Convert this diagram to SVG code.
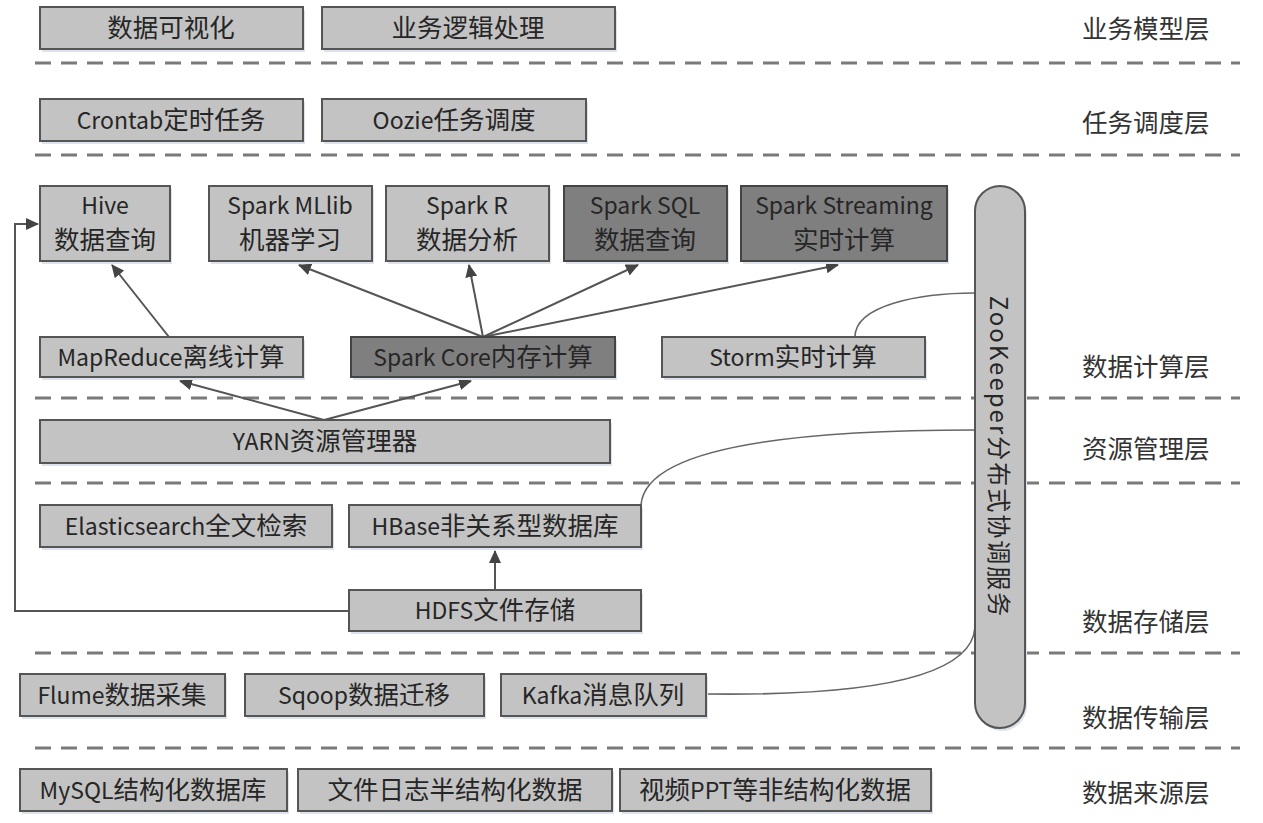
<svg xmlns="http://www.w3.org/2000/svg" width="1263" height="823" viewBox="0 0 1263 823">
<style>
.bg{fill:#ffffff}
.sh{fill:#dde3ec}
.lt{fill:#c3c3c3;stroke:#555555;stroke-width:2}
.dk{fill:#7f7f7f;stroke:#444444;stroke-width:2}
.t{font-family:"Noto Sans CJK SC","Noto Sans",sans-serif;font-size:23px;fill:#262626;text-anchor:middle}
.c{font-size:25.5px}
.lab{font-family:"Noto Sans CJK SC","Noto Sans",sans-serif;font-size:25.5px;fill:#333333;text-anchor:start}
.zk{font-family:"Noto Sans CJK SC","Noto Sans",sans-serif;font-size:24px;fill:#262626;text-anchor:middle;dominant-baseline:central;letter-spacing:2px}
.dash{stroke:#7a7a7a;stroke-width:3;stroke-dasharray:16 10;fill:none}
.ar{stroke:#555555;stroke-width:2;fill:none;marker-end:url(#ah)}
.cv{stroke:#666666;stroke-width:1.6;fill:none}
</style>
<defs>
<marker id="ah" markerUnits="userSpaceOnUse" markerWidth="14" markerHeight="12" refX="12" refY="6" orient="auto">
<path d="M0,0 L13,6 L0,12 z" fill="#444444"/>
</marker>
</defs>
<rect class="bg" x="0" y="0" width="1263" height="823"/>

<g id="layers">
<line class="dash" x1="35" y1="63" x2="1240" y2="63"/>
<line class="dash" x1="35" y1="155" x2="1240" y2="155"/>
<line class="dash" x1="35" y1="398" x2="1240" y2="398"/>
<line class="dash" x1="35" y1="483" x2="1240" y2="483"/>
<line class="dash" x1="35" y1="653" x2="1240" y2="653"/>
<line class="dash" x1="35" y1="748" x2="1240" y2="748"/>
<text class="lab" x="1082" y="38">业务模型层</text>
<text class="lab" x="1082" y="132">任务调度层</text>
<text class="lab" x="1082" y="376">数据计算层</text>
<text class="lab" x="1082" y="458">资源管理层</text>
<text class="lab" x="1082" y="631">数据存储层</text>
<text class="lab" x="1082" y="727">数据传输层</text>
<text class="lab" x="1082" y="802">数据来源层</text>
</g>

<g id="connectors">
<line class="ar" x1="169" y1="337" x2="112" y2="265"/>
<line class="ar" x1="483" y1="337" x2="299" y2="265"/>
<line class="ar" x1="483" y1="337" x2="469" y2="265"/>
<line class="ar" x1="483" y1="337" x2="638" y2="265"/>
<line class="ar" x1="483" y1="337" x2="838" y2="265"/>
<line class="ar" x1="324" y1="420" x2="180" y2="381"/>
<line class="ar" x1="324" y1="420" x2="471" y2="381"/>
<line class="ar" x1="495" y1="590" x2="495" y2="551"/>
<path class="ar" d="M349,611 L15,611 L15,224 L38,224"/>
<path class="cv" d="M855,337 C855,305 920,293 975,293"/>
<path class="cv" d="M641,505 C645,450 780,430 975,430"/>
<path class="cv" d="M706,694 C860,696 972,680 975,627"/>
</g>

<g id="n-vis"><rect class="sh" x="42" y="10" width="263" height="42"/><rect class="lt" x="40" y="7" width="263" height="42"/><text class="t c" x="171" y="37">数据可视化</text></g>
<g id="n-biz"><rect class="sh" x="324" y="10" width="293" height="42"/><rect class="lt" x="322" y="7" width="293" height="42"/><text class="t c" x="468" y="37">业务逻辑处理</text></g>
<g id="n-crontab"><rect class="sh" x="42" y="102" width="263" height="42"/><rect class="lt" x="40" y="99" width="263" height="42"/><text class="t" x="171" y="129">Crontab<tspan class="c">定时任务</tspan></text></g>
<g id="n-oozie"><rect class="sh" x="324" y="102" width="264" height="42"/><rect class="lt" x="322" y="99" width="264" height="42"/><text class="t" x="454" y="129">Oozie<tspan class="c">任务调度</tspan></text></g>

<g id="n-hive"><rect class="sh" x="42" y="189" width="130" height="75"/><rect class="lt" x="40" y="186" width="130" height="75"/><text class="t" x="105" y="214">Hive</text><text class="t c" x="105" y="249">数据查询</text></g>
<g id="n-mllib"><rect class="sh" x="211" y="189" width="163" height="75"/><rect class="lt" x="209" y="186" width="163" height="75"/><text class="t" x="290" y="214">Spark MLlib</text><text class="t c" x="290" y="249">机器学习</text></g>
<g id="n-sparkr"><rect class="sh" x="388" y="189" width="163" height="75"/><rect class="lt" x="386" y="186" width="163" height="75"/><text class="t" x="467" y="214">Spark R</text><text class="t c" x="467" y="249">数据分析</text></g>
<g id="n-sparksql"><rect class="sh" x="566" y="189" width="163" height="75"/><rect class="dk" x="564" y="186" width="163" height="75"/><text class="t" x="645" y="214">Spark SQL</text><text class="t c" x="645" y="249">数据查询</text></g>
<g id="n-streaming"><rect class="sh" x="743" y="189" width="206" height="75"/><rect class="dk" x="741" y="186" width="206" height="75"/><text class="t" x="844" y="214">Spark Streaming</text><text class="t c" x="844" y="249">实时计算</text></g>

<g id="n-mapreduce"><rect class="sh" x="42" y="340" width="263" height="40"/><rect class="lt" x="40" y="337" width="263" height="40"/><text class="t" x="171" y="366">MapReduce<tspan class="c">离线计算</tspan></text></g>
<g id="n-sparkcore"><rect class="sh" x="353" y="340" width="264" height="40"/><rect class="dk" x="351" y="337" width="264" height="40"/><text class="t" x="483" y="366">Spark Core<tspan class="c">内存计算</tspan></text></g>
<g id="n-storm"><rect class="sh" x="664" y="340" width="263" height="40"/><rect class="lt" x="662" y="337" width="263" height="40"/><text class="t" x="793" y="366">Storm<tspan class="c">实时计算</tspan></text></g>

<g id="n-yarn"><rect class="sh" x="42" y="423" width="570" height="43"/><rect class="lt" x="40" y="420" width="570" height="43"/><text class="t" x="325" y="450">YARN<tspan class="c">资源管理器</tspan></text></g>

<g id="n-es"><rect class="sh" x="42" y="508" width="292" height="42"/><rect class="lt" x="40" y="505" width="292" height="42"/><text class="t" x="186" y="535">Elasticsearch<tspan class="c">全文检索</tspan></text></g>
<g id="n-hbase"><rect class="sh" x="351" y="508" width="292" height="42"/><rect class="lt" x="349" y="505" width="292" height="42"/><text class="t" x="495" y="535">HBase<tspan class="c">非关系型数据库</tspan></text></g>
<g id="n-hdfs"><rect class="sh" x="351" y="593" width="292" height="41"/><rect class="lt" x="349" y="590" width="292" height="41"/><text class="t" x="495" y="619">HDFS<tspan class="c">文件存储</tspan></text></g>

<g id="n-flume"><rect class="sh" x="22" y="677" width="205" height="42"/><rect class="lt" x="20" y="674" width="205" height="42"/><text class="t" x="122" y="704">Flume<tspan class="c">数据采集</tspan></text></g>
<g id="n-sqoop"><rect class="sh" x="247" y="677" width="239" height="42"/><rect class="lt" x="245" y="674" width="239" height="42"/><text class="t" x="364" y="704">Sqoop<tspan class="c">数据迁移</tspan></text></g>
<g id="n-kafka"><rect class="sh" x="503" y="677" width="205" height="42"/><rect class="lt" x="501" y="674" width="205" height="42"/><text class="t" x="603" y="704">Kafka<tspan class="c">消息队列</tspan></text></g>

<g id="n-mysql"><rect class="sh" x="22" y="772" width="267" height="42"/><rect class="lt" x="20" y="769" width="267" height="42"/><text class="t" x="153" y="799">MySQL<tspan class="c">结构化数据库</tspan></text></g>
<g id="n-log"><rect class="sh" x="300" y="772" width="314" height="42"/><rect class="lt" x="298" y="769" width="314" height="42"/><text class="t c" x="455" y="799">文件日志半结构化数据</text></g>
<g id="n-video"><rect class="sh" x="622" y="772" width="311" height="42"/><rect class="lt" x="620" y="769" width="311" height="42"/><text class="t" x="775" y="799"><tspan class="c">视频</tspan>PPT<tspan class="c">等非结构化数据</tspan></text></g>

<g id="n-zookeeper"><rect class="sh" x="977" y="189" width="50" height="542" rx="25"/><rect class="lt" x="975" y="186" width="50" height="542" rx="25"/><text class="zk" x="0" y="0" transform="translate(1000,457) rotate(90)">ZooKeeper分布式协调服务</text></g>
</svg>
